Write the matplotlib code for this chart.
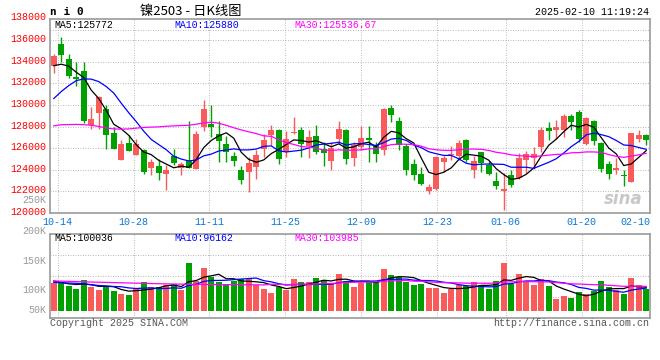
import numpy as np
import pandas as pd
import matplotlib
matplotlib.use("Agg")
import matplotlib.pyplot as plt
import matplotlib.transforms as mtransforms

# daily candles, 2024-10-11 .. 2025-02-10
opens = [133570, 135630, 134250, 132620, 133110, 128100, 129240, 129640, 127430, 124880,
         126480, 125340, 125800, 124210, 124330, 123590, 125250, 124210, 124790, 124110,
         127950, 128200, 127280, 126420, 125250, 123960, 123810, 124270, 125930, 127180,
         127640, 125650, 127400, 127640, 126200, 127090, 125960, 124820, 126880, 127640,
         125100, 126110, 126970, 126320, 125800, 129730, 128500, 126170, 124510, 123590,
         122060, 122210, 124730, 125340, 125250, 126720, 123960, 125620, 124420, 122950,
         122060, 123560, 123250, 124940, 125100, 126110, 127890, 127640, 127710, 128960,
         129330, 126420, 128500, 126480, 124570, 123960, 123470, 122890, 126820, 127180]
highs = [134710, 136300, 134710, 133940, 133940, 129850, 130870, 130040, 127950, 126720,
         127180, 126820, 125960, 125030, 125030, 124420, 125960, 124730, 128500, 127580,
         130500, 129950, 128500, 127090, 125620, 124330, 125190, 125800, 127340, 128170,
         127770, 127580, 128930, 127950, 127640, 128100, 126570, 126570, 128500, 127800,
         126570, 128010, 128010, 126570, 129730, 129950, 128870, 126420, 125030, 124270,
         122670, 125250, 125250, 126170, 126780, 126880, 125250, 125620, 124790, 123810,
         123710, 123960, 125560, 125740, 126110, 127950, 128410, 128570, 129120, 129180,
         129490, 128930, 128570, 126570, 124790, 125100, 123960, 127400, 127640, 127280]
lows = [132920, 133940, 132460, 131790, 128320, 127800, 127770, 125960, 125960, 124880,
        125740, 125340, 123590, 123500, 123100, 122120, 124420, 123500, 124210, 124110,
        127580, 127030, 124730, 124730, 124330, 122670, 121970, 123190, 125190, 126260,
        124570, 125190, 127340, 125190, 125100, 125500, 124360, 123960, 126420, 124570,
        124330, 125800, 124730, 124730, 125340, 128410, 125800, 123500, 123100, 122580,
        121720, 122120, 123810, 124940, 124880, 124730, 123250, 123810, 123500, 122180,
        120280, 122430, 123190, 123710, 124110, 125650, 126720, 126880, 127030, 127640,
        126570, 126260, 126260, 123810, 123190, 123590, 122490, 122890, 126570, 126260]
closes = [134550, 134610, 132650, 132370, 128500, 128720, 130710, 127180, 125960, 126360,
          125740, 126360, 123810, 124730, 123720, 124020, 124640, 124570, 124210, 127280,
          129580, 127950, 126660, 125650, 124790, 123040, 124670, 125340, 126720, 127710,
          125030, 126880, 127490, 126420, 127000, 125650, 125560, 125990, 127800, 125030,
          126260, 126970, 126720, 125500, 129580, 129030, 126260, 124020, 123500, 122640,
          122430, 125190, 125130, 125500, 126480, 124880, 124790, 124640, 123650, 122520,
          122180, 122580, 125130, 125500, 125430, 127710, 127580, 127950, 128960, 128410,
          126880, 128810, 126660, 124110, 123590, 124180, 123410, 127400, 127180, 126720]
volumes = [116600, 123400, 105300, 92600, 130500, 102300, 88400, 106500, 84200, 71600,
           67400, 98100, 122100, 101000, 101000, 109500, 113700, 88400, 203300, 126300,
           181000, 141900, 120800, 109500, 126300, 134700, 134700, 109500, 92600, 77000,
           102300, 88400, 134700, 122100, 122100, 138900, 130500, 119100, 155800, 126300,
           101000, 116600, 126300, 126300, 176800, 151600, 141900, 122100, 109500, 113700,
           96800, 98100, 75800, 91400, 109500, 106500, 122100, 109500, 92600, 126300,
           203300, 113700, 155800, 126300, 109500, 134700, 105300, 50500, 63200, 54700,
           80000, 71600, 84200, 126300, 101000, 88400, 71600, 138900, 109500, 92600]

# moving-average values before the window fills
ma5_head = [133630, 133770, 133590, 133030]
ma10_head = [130590, 131240, 131790, 132250, 132410, 132390, 132160, 131700, 131100]
ma30_head = [128060, 128170, 128180, 128200, 128170, 128120, 128010, 127870, 127780, 127760,
             127780, 127850, 127920, 127950, 127970, 128030, 128060, 128090, 128120, 128220,
             128340, 128400, 128310, 128110, 127890, 127690, 127510, 127350, 127140]
vma5_head = [126300, 120000, 114500, 111600]
vma10_head = [120400, 119100, 117900, 116600, 114500, 110300, 107400, 105300, 103100]
vma30_head = [126300, 125500, 124700, 123800, 122900, 122000, 121200, 120400, 119600, 118800,
              118000, 117200, 116400, 115600, 114900, 114200, 113600, 113100, 112600, 112200,
              111900, 111600, 111300, 111000, 110800, 110600, 110400, 110200, 110000]

date_labels = ["10-14", "10-28", "11-11", "11-25", "12-09", "12-23", "01-06", "01-20", "02-10"]
date_idx = [1, 11, 21, 31, 41, 51, 60, 70, 79]
price_ticks = list(range(120000, 138001, 2000))
vol_labels = ["50K", "100K", "150K", "200K", "250K"]


def moving_avg(values, n, head):
    out = pd.Series(values, dtype=float).rolling(n).mean().to_numpy()
    out[:n - 1] = head
    return out


RED = "#f95a5a"
GREEN = "#00a000"
GRID = "#b0b0b0"
MONO = "Liberation Mono"

o = np.array(opens)
c = np.array(closes)
x = np.arange(len(closes))
up = c >= o
colors = np.where(up, RED, GREEN)

fig = plt.figure(figsize=(6.6, 3.6), dpi=100)
ax = fig.add_axes([50 / 660, 1 - 213 / 360, 600 / 660, (213 - 18.5) / 360])
axv = fig.add_axes([50 / 660, 1 - 318 / 360, 600 / 660, (318 - 234.3) / 360])

# sina puts the date gridlines on a slightly different spacing than the candles
grid_x = [k * len(closes) / (len(closes) - 1) - 0.5 for k in date_idx]
dots = (0, (0.8, 1.6))

for a in (ax, axv):
    a.set_xlim(-0.5, len(closes) - 0.5)
    for gx in grid_x[:-1]:
        a.axvline(gx, color=GRID, lw=0.75, ls=dots, zorder=0)
    for s in a.spines.values():
        s.set_color("#999999")
        s.set_linewidth(1.2)
    a.tick_params(length=0)

# price panel
ax.set_ylim(120000, 138000)
for p in price_ticks[1:-1]:
    ax.axhline(p, color=GRID, lw=0.75, ls=dots, zorder=0)
ax.plot([0, 1], [0.941, 0.941], transform=ax.transAxes, color=GRID, lw=0.75, ls=dots)

ax.vlines(x, lows, highs, colors=colors, lw=1.0, zorder=2)
body = np.maximum(np.abs(c - o), 70)
ax.bar(x, body, bottom=np.minimum(o, c), width=0.8, color=colors, lw=0, zorder=3)

ax.plot(x, moving_avg(closes, 5, ma5_head), color="black", lw=0.9, zorder=4)
ax.plot(x, moving_avg(closes, 10, ma10_head), color="#0000ff", lw=0.9, zorder=4)
ax.plot(x, moving_avg(closes, 30, ma30_head), color="#ff00ff", lw=0.9, zorder=4)

ax.set_yticks(price_ticks)
ax.set_yticklabels([str(p) for p in price_ticks], color="#ff0000", family=MONO, fontsize=7.2)
ax.tick_params(axis="y", pad=3)
up2 = mtransforms.ScaledTranslation(0, 2 / 100, fig.dpi_scale_trans)
for lab in ax.get_yticklabels():
    lab.set_transform(lab.get_transform() + up2)

ax.set_xticks(grid_x)
ax.set_xticklabels(date_labels, color="#0b78d0", family=MONO, fontsize=7.2)
ax.tick_params(axis="x", pad=3)
ax.get_xticklabels()[-1].set_ha("right")

ax.text(0.008, 0.968, "MA5:125772", transform=ax.transAxes, color="black",
        family=MONO, fontsize=7.1, va="center")
ax.text(0.207, 0.968, "MA10:125880", transform=ax.transAxes, color="#0000ff",
        family=MONO, fontsize=7.1, va="center")
ax.text(0.407, 0.968, "MA30:125536.67", transform=ax.transAxes, color="#ff00ff",
        family=MONO, fontsize=7.1, va="center")
ax.text(0.955, 0.07, "sina", transform=ax.transAxes, color="#c8c8c8", fontsize=12,
        fontweight="bold", style="italic", ha="center", va="center", zorder=1)

# volume panel
axv.set_ylim(-29500, 323000)
for f in (0.25, 0.5, 0.75):
    axv.plot([0, 1], [f, f], transform=axv.transAxes, color=GRID, lw=0.75, ls=dots, zorder=0)
axv.bar(x, volumes, width=0.8, color=colors, lw=0, zorder=2)
axv.plot(x, moving_avg(volumes, 5, vma5_head), color="black", lw=0.9, zorder=3)
axv.plot(x, moving_avg(volumes, 10, vma10_head), color="#0000ff", lw=0.9, zorder=3)
axv.plot(x, moving_avg(volumes, 30, vma30_head), color="#ff00ff", lw=0.9, zorder=3)
axv.set_xticks([])
axv.set_yticks([])
for lab, fy in zip(vol_labels, [0.099, 0.329, 0.686, 1.044, 1.413]):
    axv.text(-0.0067, fy, lab, transform=axv.transAxes, color="#999999", family=MONO,
             fontsize=7.2, ha="right", va="center", clip_on=False)
axv.text(0.008, 0.95, "MA5:100036", transform=axv.transAxes, color="black",
         family=MONO, fontsize=7.1, va="center")
axv.text(0.207, 0.95, "MA10:96162", transform=axv.transAxes, color="#0000ff",
         family=MONO, fontsize=7.1, va="center")
axv.text(0.407, 0.95, "MA30:103985", transform=axv.transAxes, color="#ff00ff",
         family=MONO, fontsize=7.1, va="center")

# header / footer
fig.text(50 / 660, 1 - 12 / 360, "n i 0", family="DejaVu Sans Mono", fontweight="bold",
         fontsize=8, va="center")
fig.text(140 / 660, 1 - 11 / 360, "镍2503 - 日K线图", family=["Noto Sans CJK SC", "DejaVu Sans"],
         fontsize=9.5, va="center")
fig.text(649 / 660, 1 - 12 / 360, "2025-02-10 11:19:24", family=MONO, fontsize=7.2,
         ha="right", va="center")
fig.text(50 / 660, 1 - 323.5 / 360, "Copyright 2025 SINA.COM", family=MONO, fontsize=7.2,
         color="#555555", va="center")
fig.text(649 / 660, 1 - 323.5 / 360, "http://finance.sina.com.cn", family=MONO, fontsize=7.2,
         color="#555555", ha="right", va="center")

fig.savefig("out.png", dpi=100)
